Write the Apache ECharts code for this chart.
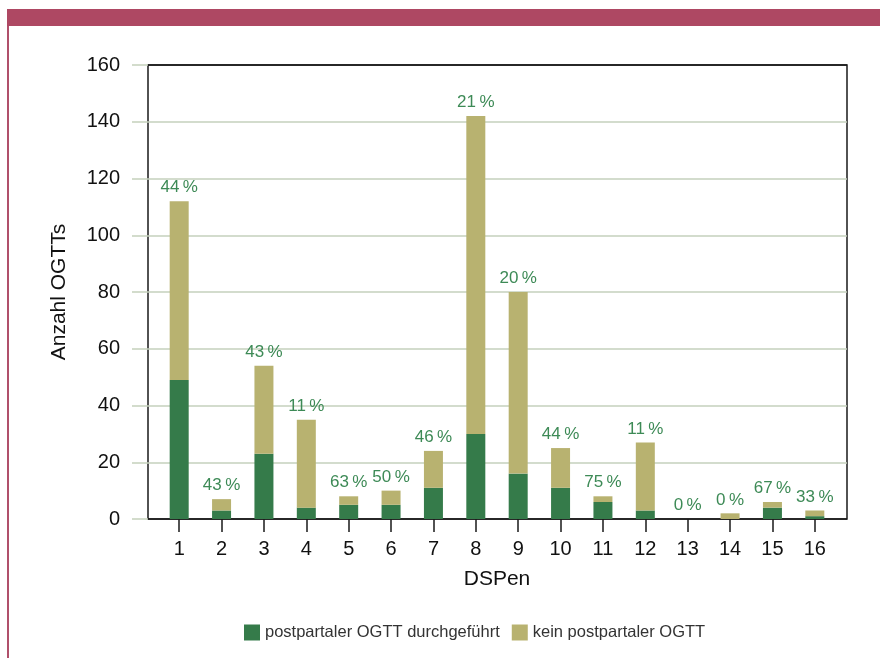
<!DOCTYPE html>
<html>
<head>
<meta charset="utf-8">
<script src="https://cdn.jsdelivr.net/npm/echarts@6/dist/echarts.min.js"></script>
<style>
  html, body { margin: 0; padding: 0; background: #fff; }
  #chart { width: 880px; height: 658px; }
</style>
</head>
<body>
<div id="chart"></div>
<script>
// DSPen 1..16
const categories = ['1','2','3','4','5','6','7','8','9','10','11','12','13','14','15','16'];
// postpartaler OGTT durchgeführt
const doneValues = [49, 3, 23, 4, 5, 5, 11, 30, 16, 11, 6, 3, 0, 0, 4, 1];
// kein postpartaler OGTT
const notDoneValues = [63, 4, 31, 31, 3, 5, 13, 112, 64, 14, 2, 24, 0, 2, 2, 2];
// Anteil durchgeführt (%)
const percentLabels = [44, 43, 43, 11, 63, 50, 46, 21, 20, 44, 75, 11, 0, 0, 67, 33];
const yTicks = [0, 20, 40, 60, 80, 100, 120, 140, 160];

const GREEN = '#357b4a';
const KHAKI = '#b8b270';
const GRIDC = '#c5d1bc';
const DARK = '#1a1a1a';
const FONT = 'Liberation Sans';

const chart = echarts.init(document.getElementById('chart'));
chart.setOption({
    backgroundColor: '#fff',
    textStyle: { fontFamily: FONT },
    animation: false,
    graphic: [
        { type: 'rect', shape: { x: 7, y: 9, width: 873, height: 17 }, style: { fill: '#ae4863' } },
        { type: 'rect', shape: { x: 7, y: 26, width: 2, height: 632 }, style: { fill: '#b0506b' } }
    ],
    legend: {
        left: 239,
        top: 619,
        icon: 'rect',
        itemWidth: 16,
        itemHeight: 16,
        itemGap: 12,
        textStyle: { fontSize: 16.5, color: '#333', fontFamily: FONT },
        data: ['postpartaler OGTT durchgeführt', 'kein postpartaler OGTT']
    },
    grid: [
        // box with y axis
        { left: 148, right: 33, top: 65, bottom: 139, show: true, borderColor: DARK, borderWidth: 1.5, backgroundColor: 'transparent' },
        // bars
        { left: 158, right: 44, top: 65, bottom: 139 }
    ],
    xAxis: [
        { gridIndex: 0, type: 'value', min: 0, max: 1, show: false },
        {
            gridIndex: 1,
            type: 'category',
            data: categories,
            name: 'DSPen',
            nameLocation: 'middle',
            nameGap: 50,
            nameTextStyle: { fontSize: 21, color: '#111', fontFamily: FONT },
            axisLine: { show: false },
            axisTick: { show: true, alignWithLabel: true, length: 13, lineStyle: { color: DARK, width: 1.5 } },
            axisLabel: { fontSize: 20, color: '#111', margin: 20, fontFamily: FONT }
        }
    ],
    yAxis: [
        {
            gridIndex: 0,
            type: 'value',
            min: 0,
            max: 160,
            interval: 20,
            name: 'Anzahl OGTTs',
            nameLocation: 'middle',
            nameGap: 78,
            nameTextStyle: { fontSize: 21, color: '#111', fontFamily: FONT },
            axisLine: { show: false },
            axisTick: { show: true, inside: false, length: 16, lineStyle: { color: GRIDC, width: 1.5 } },
            axisLabel: { fontSize: 20, color: '#111', margin: 28, fontFamily: FONT,
                formatter: v => yTicks.includes(v) ? String(v) : '' },
            splitLine: { show: true, lineStyle: {
                color: [DARK, GRIDC, GRIDC, GRIDC, GRIDC, GRIDC, GRIDC, GRIDC, DARK], width: 1.5 } }
        },
        { gridIndex: 1, type: 'value', min: 0, max: 160, interval: 20, show: false, splitLine: { show: false } }
    ],
    series: [
        {
            name: 'postpartaler OGTT durchgeführt',
            type: 'bar',
            xAxisIndex: 1, yAxisIndex: 1,
            stack: 'total',
            barWidth: 19,
            itemStyle: { color: GREEN },
            data: doneValues
        },
        {
            name: 'kein postpartaler OGTT',
            type: 'bar',
            xAxisIndex: 1, yAxisIndex: 1,
            stack: 'total',
            barWidth: 19,
            itemStyle: { color: KHAKI },
            data: notDoneValues
        },
        {
            name: 'anteil',
            type: 'bar',
            xAxisIndex: 1, yAxisIndex: 1,
            stack: 'total',
            barWidth: 19,
            itemStyle: { color: 'transparent' },
            label: {
                show: true,
                position: 'top',
                distance: 5,
                fontSize: 17,
                color: '#3d8a56',
                fontFamily: FONT,
                formatter: p => percentLabels[p.dataIndex] + '\u2009%'
            },
            data: categories.map(() => 0)
        }
    ]
});
</script>
</body>
</html>
